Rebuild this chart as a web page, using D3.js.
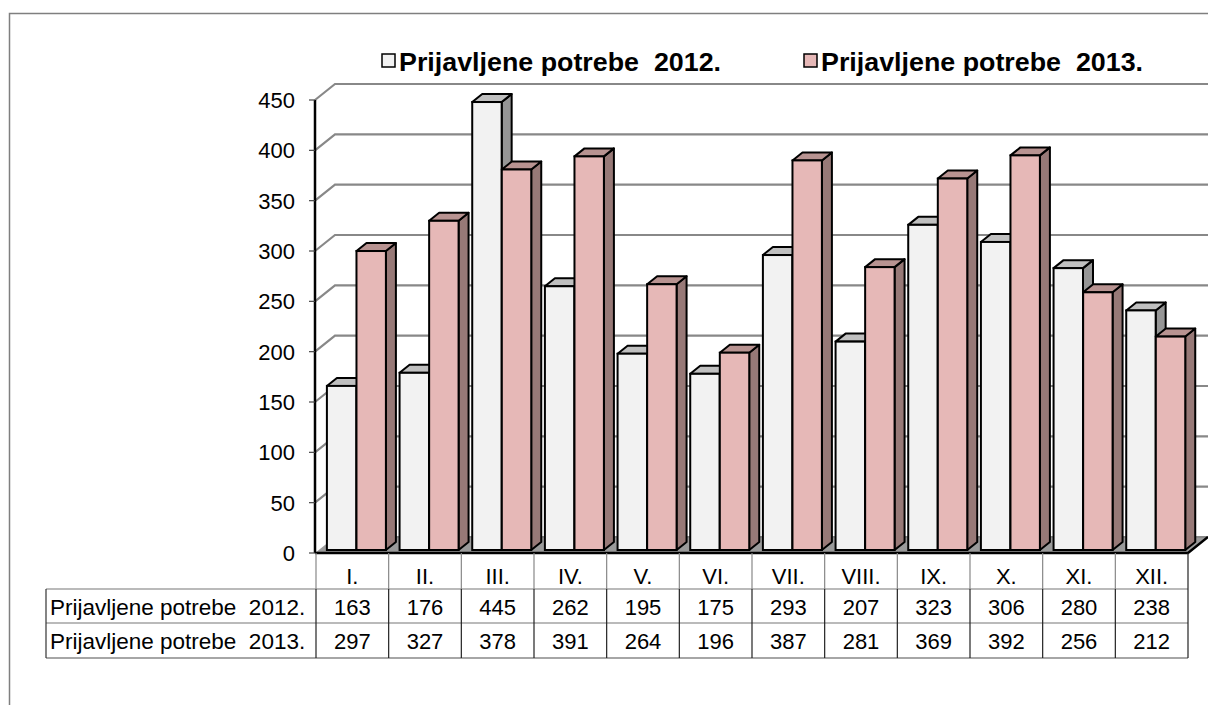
<!DOCTYPE html>
<html><head><meta charset="utf-8">
<script src="https://cdn.jsdelivr.net/npm/d3@7"></script>
<style>body{margin:0;background:#fff}svg{display:block}text{font-family:Arial,"Liberation Sans",sans-serif}</style>
</head><body>
<svg id="c" width="1208" height="705"></svg>
<script>
const categories = ["I.","II.","III.","IV.","V.","VI.","VII.","VIII.","IX.","X.","XI.","XII."];
const values2012 = [163,176,445,262,195,175,293,207,323,306,280,238];
const values2013 = [297,327,378,391,264,196,387,281,369,392,256,212];
const seriesNames = ["Prijavljene potrebe  2012.","Prijavljene potrebe  2013."];
const yTicks = [0,50,100,150,200,250,300,350,400,450];

const svg = d3.select("#c");
const W = 1208;
const x = d3.scaleBand().domain(categories).range([316,1188]).padding(0);
const y = d3.scaleLinear().domain([0,450]).range([553,100]);
const bw = x.bandwidth();
const wallDX = 20, wallDY = -16;
const barOffX = 4, barOffY = -3;
const depthX = 10, depthY = -8;

const styles = [
  {front:"#f2f2f2", top:"#c0c0c0", side:"#969696"},
  {front:"#e6b8b7", top:"#b89391", side:"#977977"}
];

// frame
svg.append("path").attr("d",`M9.5,${705} L9.5,13.5 L${W},13.5`).attr("fill","none").attr("stroke","#7f7f7f").attr("stroke-width",1.5);

// gridlines
const g = svg.append("g");
yTicks.forEach(v=>{
  if(v===0) return;
  const yy = y(v);
  g.append("path").attr("d",`M315,${yy} L${315+wallDX},${yy+wallDY} L${W},${yy+wallDY}`)
    .attr("fill","none").attr("stroke","#888").attr("stroke-width",2.2);
});
// floor
svg.append("path").attr("d",`M315,553 L1188,553 L${1188+wallDX},${553+wallDY} L${W},${553+wallDY} L${315+wallDX},${553+wallDY} Z`)
  .attr("fill","#9a9a9a").attr("stroke","none");
svg.append("path").attr("d",`M${315+wallDX},${553+wallDY} L${W},${553+wallDY}`).attr("stroke","#888").attr("stroke-width",2);
svg.append("path").attr("d",`M315,553 L1188,553 L${1188+wallDX},${553+wallDY}`).attr("fill","none").attr("stroke","#000").attr("stroke-width",2.5);

// bars
const bars = svg.append("g");
categories.forEach((c,i)=>{
  [values2012[i], values2013[i]].forEach((v,s)=>{
    const st = styles[s];
    const x0 = x(c) + (s===0 ? 0.15 : 0.557)*bw;
    const w = 0.405*bw;
    const yb = y(0)+barOffY, yt = y(v)+barOffY;
    const x1 = x0+w;
    bars.append("path").attr("d",`M${x1},${yt} L${x1+depthX},${yt+depthY} L${x1+depthX},${yb+depthY} L${x1},${yb} Z`)
      .attr("fill",st.side).attr("stroke","#000").attr("stroke-width",2).attr("stroke-linejoin","round");
    bars.append("path").attr("d",`M${x0},${yt} L${x0+depthX},${yt+depthY} L${x1+depthX},${yt+depthY} L${x1},${yt} Z`)
      .attr("fill",st.top).attr("stroke","#000").attr("stroke-width",2).attr("stroke-linejoin","round");
    bars.append("rect").attr("x",x0).attr("y",yt).attr("width",w).attr("height",yb-yt)
      .attr("fill",st.front).attr("stroke","#000").attr("stroke-width",2);
  });
});

// y axis
const ax = svg.append("g");
ax.append("line").attr("x1",315).attr("x2",315).attr("y1",y(450)).attr("y2",553).attr("stroke","#000").attr("stroke-width",2.5);
yTicks.forEach(v=>{
  ax.append("line").attr("x1",309).attr("x2",315).attr("y1",y(v)).attr("y2",y(v)).attr("stroke","#444").attr("stroke-width",1.2);
  ax.append("text").attr("x",295).attr("y",y(v)+8).attr("text-anchor","end").attr("font-size",22).attr("fill","#000").text(v);
});

// table
const t = svg.append("g");
const tableLeft = 46, tableRight = x.range()[1];
t.append("line").attr("x1",tableLeft).attr("x2",tableRight).attr("y1",589).attr("y2",589).attr("stroke","#777").attr("stroke-width",1.2);
t.append("line").attr("x1",tableLeft).attr("x2",tableRight).attr("y1",623).attr("y2",623).attr("stroke","#777").attr("stroke-width",1.2);
t.append("line").attr("x1",tableLeft).attr("x2",tableRight).attr("y1",658).attr("y2",658).attr("stroke","#888").attr("stroke-width",1.5);
t.append("line").attr("x1",tableLeft).attr("x2",tableLeft).attr("y1",589).attr("y2",658).attr("stroke","#333").attr("stroke-width",1.2);
categories.forEach((c,i)=>{
  t.append("line").attr("x1",x(c)).attr("x2",x(c)).attr("y1",553).attr("y2",589).attr("stroke","#888").attr("stroke-width",1.2);
  t.append("line").attr("x1",x(c)).attr("x2",x(c)).attr("y1",589).attr("y2",658).attr("stroke","#222").attr("stroke-width",1.2);
});
t.append("line").attr("x1",tableRight).attr("x2",tableRight).attr("y1",553).attr("y2",658).attr("stroke","#222").attr("stroke-width",1.2);
categories.forEach((c,i)=>{
  const cx = x(c)+bw/2;
  t.append("text").attr("x",cx).attr("y",584).attr("text-anchor","middle").attr("font-size",22).text(c);
  t.append("text").attr("x",cx).attr("y",615).attr("text-anchor","middle").attr("font-size",22).text(values2012[i]);
  t.append("text").attr("x",cx).attr("y",649).attr("text-anchor","middle").attr("font-size",22).text(values2013[i]);
});
t.append("text").attr("x",50).attr("y",615).attr("font-size",22.5).style("white-space","pre").text(seriesNames[0]);
t.append("text").attr("x",50).attr("y",649).attr("font-size",22.5).style("white-space","pre").text(seriesNames[1]);

// legend
const lg = svg.append("g");
const legX = [382, 804];
seriesNames.forEach((n,s)=>{
  lg.append("rect").attr("x",legX[s]).attr("y",54).attr("width",13).attr("height",13)
    .attr("fill",styles[s].front).attr("stroke","#000").attr("stroke-width",1.5);
  lg.append("text").attr("x",legX[s]+17).attr("y",71).attr("font-size",26).attr("font-weight","bold")
    .attr("textLength",322).attr("lengthAdjust","spacingAndGlyphs").style("white-space","pre").text(n);
});
</script>
</body></html>
